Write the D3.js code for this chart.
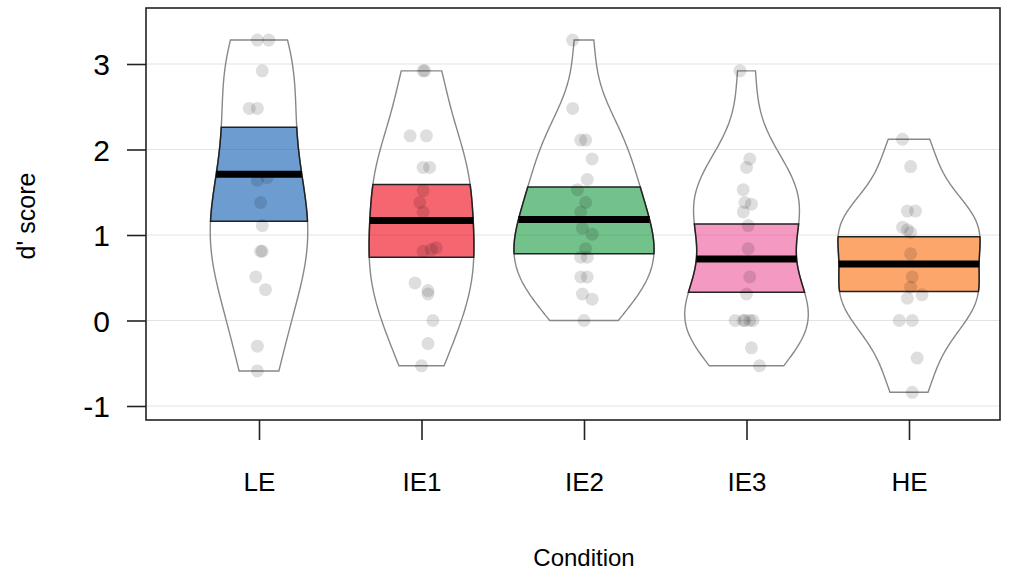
<!DOCTYPE html>
<html><head><meta charset="utf-8">
<script src="https://cdn.jsdelivr.net/npm/d3@7"></script>
<style>body{margin:0;background:#fff}text{font-family:"Liberation Sans",Arial,sans-serif;fill:#000}</style></head>
<body><svg id="c" width="1012" height="571"></svg>
<script>
const categories = ["LE","IE1","IE2","IE3","HE"];
const leScores  = [3.28,3.28,2.92,2.48,2.48,1.67,1.64,1.38,1.11,0.81,0.81,0.51,0.36,-0.30,-0.59];
const leJitter  = [-0.01,0.06,0.02,-0.06,-0.01,0.05,-0.01,0.01,0.02,0.01,0.02,-0.02,0.04,-0.01,-0.01];
const ie1Scores = [2.92,2.92,2.16,2.16,1.79,1.79,1.52,1.38,1.27,0.81,0.83,0.85,0.44,0.35,0.31,0.00,-0.27,-0.53];
const ie1Jitter = [0.01,0.02,-0.07,0.03,0.01,0.05,0.01,-0.01,0.01,0.01,0.06,0.09,-0.04,0.04,0.04,0.07,0.04,0.00];
const ie2Scores = [3.28,2.48,2.11,2.11,1.89,1.65,1.53,1.38,1.27,1.08,1.01,0.84,0.74,0.74,0.51,0.51,0.31,0.25,0.00];
const ie2Jitter = [-0.07,-0.07,-0.02,0.01,0.05,0.02,-0.04,0.01,-0.02,-0.01,0.05,0.01,-0.02,0.02,-0.02,0.02,-0.01,0.05,0.00];
const ie3Scores = [2.92,1.89,1.79,1.53,1.38,1.36,1.27,1.11,0.84,0.51,0.31,0,0,0,0,0,-0.32,-0.53];
const ie3Jitter = [-0.04,0.02,0,-0.02,-0.01,0.03,-0.02,0.01,0.01,0.02,0,-0.07,-0.02,-0.01,0.02,0.04,0.03,0.08];
const heScores  = [2.12,1.80,1.28,1.28,1.09,1.06,1.03,0.78,0.51,0.39,0.30,0.26,0,0,-0.44,-0.84];
const heJitter  = [-0.04,0.01,-0.01,0.04,-0.04,-0.01,0.01,0.01,0.02,0.01,0.08,-0.01,-0.06,0.02,0.05,0.02];
const means  = [1.71,1.17,1.18,0.72,0.66];
const ciLow  = [1.16,0.74,0.78,0.33,0.34];
const ciHigh = [2.26,1.59,1.56,1.13,0.98];
const yTicks = [-1,0,1,2,3];
const colors = ["#0C5BB0","#EE0011","#15983D","#EC579A","#FA6B09"];

const scores = [leScores, ie1Scores, ie2Scores, ie3Scores, heScores];
const jitters = [leJitter, ie1Jitter, ie2Jitter, ie3Jitter, heJitter];

const svg = d3.select("#c");
const L = 146, R = 1000, T = 8, B = 420;
const x = d3.scaleLinear().domain([1,5]).range([259,909]);
const y = d3.scaleLinear().domain([-1,3]).range([406,64]);
const unitPx = x(2) - x(1);

// gridlines
svg.append("g").selectAll("line").data(yTicks).join("line")
  .attr("x1", L).attr("x2", R).attr("y1", d=>y(d)).attr("y2", d=>y(d))
  .attr("stroke", "#e4e4e4").attr("stroke-width", 1.2);

// KDE (nrd0 bandwidth, gaussian), truncated at min/max
const widthMin = 0.3, widthMax = 0.45;
function kde(vals) {
  const v = vals.slice().sort(d3.ascending);
  const n = v.length;
  const sd = d3.deviation(v);
  const iqr = d3.quantile(v, 0.75) - d3.quantile(v, 0.25);
  let lo = Math.min(sd, iqr / 1.34);
  if (!(lo > 0)) lo = sd;
  const bw = 0.9 * lo * Math.pow(n, -0.2);
  const mn = v[0], mx = v[n-1];
  const f = t => d3.mean(v, xi => Math.exp(-0.5*((t-xi)/bw)**2)) / (bw*Math.sqrt(2*Math.PI));
  const grid = d3.range(0, 201).map(i => mn + (mx-mn)*i/200);
  const m = d3.max(grid, f);
  const k = m < widthMin ? widthMin/m : (m > widthMax ? widthMax/m : 1);
  return {f, k, min: mn, max: mx};
}
const dens = scores.map(kde);
const hw = (d, t) => d.f(t) * d.k * unitPx;

function shape(d, cx, a, b) {
  const steps = 120;
  const ts = d3.range(0, steps+1).map(i => a + (b-a)*i/steps);
  const right = ts.map(t => [cx + hw(d,t), y(t)]);
  const left = ts.slice().reverse().map(t => [cx - hw(d,t), y(t)]);
  return right.concat(left);
}
const line = d3.line().curve(d3.curveLinearClosed);

categories.forEach((c, i) => {
  const d = dens[i], cx = x(i+1);
  const g = svg.append("g");
  g.append("path").attr("d", line(shape(d, cx, d.min, d.max)))
    .attr("fill", "none").attr("stroke", "#888").attr("stroke-width", 1.4);
  g.append("path").attr("d", line(shape(d, cx, ciLow[i], ciHigh[i])))
    .attr("fill", colors[i]).attr("fill-opacity", 0.6)
    .attr("stroke", "#222").attr("stroke-width", 1.5);
  const w = hw(d, means[i]);
  g.append("line").attr("x1", cx - w).attr("x2", cx + w)
    .attr("y1", y(means[i])).attr("y2", y(means[i]))
    .attr("stroke", "#000").attr("stroke-width", 7);
  g.selectAll("circle").data(scores[i]).join("circle")
    .attr("cx", (v, j) => cx + jitters[i][j]*unitPx)
    .attr("cy", v => y(v)).attr("r", 6.5)
    .attr("fill", "#000").attr("fill-opacity", 0.13);
});

// frame
svg.append("rect").attr("x", L).attr("y", T).attr("width", R-L).attr("height", B-T)
  .attr("fill", "none").attr("stroke", "#222").attr("stroke-width", 1.6);

// y axis
const yAxis = d3.axisLeft(y).tickValues(yTicks).tickSize(19).tickPadding(17).tickFormat(d => String(d));
const ya = svg.append("g").attr("transform", `translate(${L},0)`).call(yAxis);
ya.select(".domain").remove();
ya.selectAll("line").attr("stroke", "#222").attr("stroke-width", 1.6);
ya.selectAll("text").attr("font-size", 30).attr("fill", "#000").attr("dy", null)
  .attr("dominant-baseline", "central").attr("font-family", "Liberation Sans, Arial, sans-serif");

// x axis
const xAxis = d3.axisBottom(x).tickValues([1,2,3,4,5]).tickSize(20).tickPadding(0).tickFormat(d => categories[d-1]);
const xa = svg.append("g").attr("transform", `translate(0,${B})`).call(xAxis);
xa.select(".domain").remove();
xa.selectAll("line").attr("stroke", "#222").attr("stroke-width", 1.6);
xa.selectAll("text").attr("font-size", 26).attr("fill", "#000").attr("y", 0).attr("dy", null)
  .attr("transform", "translate(0,62)").attr("dominant-baseline", "central")
  .attr("font-family", "Liberation Sans, Arial, sans-serif");

svg.append("text").attr("x", 584).attr("y", 557).attr("text-anchor", "middle")
  .attr("dominant-baseline", "central").attr("font-size", 24).text("Condition");
svg.append("text").attr("transform", "translate(26,216) rotate(-90)").attr("text-anchor", "middle")
  .attr("dominant-baseline", "central").attr("font-size", 25).text("d' score");
</script></body></html>
